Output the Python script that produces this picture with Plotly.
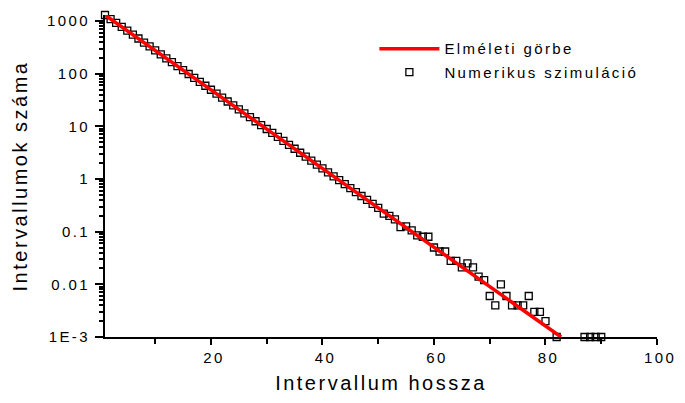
import plotly.graph_objects as go

# ---- data ----
sim_x = list(range(1, 81)) + [82, 87, 88, 89, 90]
sim_y = [1300, 1090, 920, 775, 655, 550, 465, 390, 330, 277,
         233, 196, 165, 139, 117, 98.5, 83, 70, 59, 49.5,
         41.7, 35, 29.6, 25, 21, 17.7, 14.9, 12.5, 10.5, 8.9,
         7.5, 6.3, 5.3, 4.45, 3.75, 3.15, 2.66, 2.24, 1.88, 1.59,
         1.34, 1.12, 0.95, 0.8, 0.67, 0.565, 0.476, 0.4, 0.338, 0.284,
         0.22, 0.2, 0.171, 0.122, 0.126, 0.106, 0.085, 0.08, 0.08, 0.05,
         0.042, 0.042, 0.028, 0.028, 0.021, 0.025, 0.021, 0.014, 0.012, 0.006,
         0.004, 0.01, 0.006, 0.004, 0.004, 0.004, 0.006, 0.003, 0.003, 0.002,
         0.001, 0.001, 0.001, 0.001, 0.001]

theory_x = [1, 82.8]
theory_y = [1300, 0.001]

x_tickvals = [20, 40, 60, 80, 100]
x_minorvals = [10, 30, 50, 70, 90]
y_tickvals = [1e-3, 1e-2, 1e-1, 1, 10, 100, 1000]
y_ticktext = ["1E-3", "0.01", "0.1", "1", "10", "100", "1000"]
y_minorvals = [k * 10.0 ** e for e in range(-3, 3) for k in range(2, 10)]

label_line = "Elméleti görbe"
label_sim = "Numerikus szimuláció"
x_title = "Intervallum hossza"
y_title = "Intervallumok száma"

FONT = "Liberation Sans, Arial, sans-serif"

fig = go.Figure()
fig.add_trace(go.Scatter(
    x=sim_x, y=sim_y, mode="markers", name=label_sim,
    marker=dict(symbol="square-open", size=7, color="black",
                line=dict(width=1.3, color="black")),
    cliponaxis=False, legendrank=2, legendgroup="b"))
fig.add_trace(go.Scatter(
    x=theory_x, y=theory_y, mode="lines", name=label_line,
    line=dict(color="#ff0000", width=3.5),
    legendrank=1, legendgroup="a"))

fig.update_layout(
    width=685, height=403,
    margin=dict(l=105, r=16, t=15, b=56),
    paper_bgcolor="white", plot_bgcolor="white",
    font=dict(family=FONT, color="black"),
    showlegend=True,
    legend=dict(x=0.488, y=0.946, xanchor="left", yanchor="top",
                bgcolor="rgba(0,0,0,0)", borderwidth=0,
                font=dict(size=15, family=FONT, color="black"),
                itemwidth=60, tracegroupgap=1),
)
fig.update_xaxes(
    range=[1, 100], showgrid=False, zeroline=False,
    showline=True, linecolor="black", linewidth=2,
    tickmode="array", tickvals=x_tickvals,
    ticks="outside", ticklen=6, tickwidth=2, tickcolor="black",
    minor=dict(tickmode="array", tickvals=x_minorvals, ticks="outside",
               ticklen=5, tickwidth=1.5, tickcolor="black", showgrid=False),
    tickfont=dict(size=15, family=FONT, color="black"),
    ticklabelshift=3,
    title=dict(text=x_title, font=dict(size=20, family=FONT, color="black"),
               standoff=11),
)
fig.update_yaxes(
    type="log", range=[-3, 3.114], showgrid=False, zeroline=False,
    showline=True, linecolor="black", linewidth=2,
    tickmode="array", tickvals=y_tickvals, ticktext=y_ticktext,
    ticks="outside", ticklen=8, tickwidth=2, tickcolor="black",
    minor=dict(tickmode="array", tickvals=y_minorvals, ticks="outside",
               ticklen=4, tickwidth=1.5, tickcolor="black", showgrid=False),
    tickfont=dict(size=15, family=FONT, color="black"),
    ticklabelstandoff=2,
    title=dict(text=y_title, font=dict(size=20, family=FONT, color="black"),
               standoff=24),
)

post = """
var s=document.createElement('style');
s.textContent='.xtick text,.ytick text{letter-spacing:2.4px}.g-xtitle text,.g-ytitle text{letter-spacing:2.5px}.legendtext{letter-spacing:2.4px}';
document.head.appendChild(s);
document.querySelectorAll('.legend [clip-path]').forEach(function(e){e.removeAttribute('clip-path');});
"""
fig.write_html("out.html", post_script=post)
